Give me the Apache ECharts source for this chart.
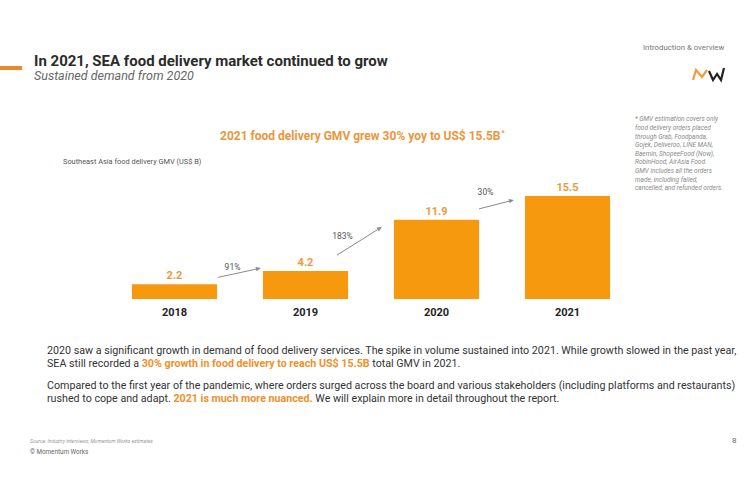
<!DOCTYPE html>
<html>
<head>
<meta charset="utf-8">
<script src="https://cdn.jsdelivr.net/npm/echarts@6/dist/echarts.min.js"></script>
<style>
html,body{margin:0;padding:0;background:#fff;}
#chart{width:750px;height:500px;}
</style>
</head>
<body>
<div id="chart"></div>
<script>
// ---- data ----
var years = ['2018', '2019', '2020', '2021'];
var gmv = [2.2, 4.2, 11.9, 15.5];
var growthLabels = ['91%', '183%', '30%'];

var ORANGE = '#F7990F';
var LABEL_ORANGE = '#EE9A3C';
var FONT = 'Roboto, "Noto Sans", sans-serif';

var chart = echarts.init(document.getElementById('chart'), null, {renderer: 'svg'});

var baseGraphics = [
  {type: 'rect', shape: {x: 0, y: 66, width: 22, height: 4}, style: {fill: '#E8892A'}},
  {type: 'text', left: 34, top: 53, style: {text: 'In 2021, SEA food delivery market continued to grow', font: 'bold 15px ' + FONT, fill: '#2b2b2b'}},
  {type: 'text', left: 34, top: 69, style: {text: 'Sustained demand from 2020', font: 'italic 12.5px ' + FONT, fill: '#666'}},
  {type: 'text', left: 643, top: 43, style: {text: 'Introduction & overview', font: '7.8px ' + FONT, fill: '#777'}},
  // MW logo
  {type: 'polyline', shape: {points: [[693, 80], [696, 70], [702, 77], [707, 70]]}, style: {stroke: '#F29A3A', lineWidth: 2.2, fill: null}},
  {type: 'polyline', shape: {points: [[709, 71], [713, 80], [717, 74], [721, 80], [724, 68]]}, style: {stroke: '#222', lineWidth: 2.2, fill: null}},
  {type: 'text', left: 635, top: 115, style: {
    text: '* GMV estimation covers only\nfood delivery orders placed\nthrough Grab, Foodpanda,\nGojek, Deliveroo, LINE MAN,\nBaemin, ShopeeFood (Now),\nRobinHood, AirAsia Food.\nGMV includes all the orders\nmade, including failed,\ncancelled, and refunded orders.',
    font: 'italic 6.5px ' + FONT, fill: '#8a8a8a', lineHeight: 8.6}},
  {type: 'text', left: 63, top: 158, style: {text: 'Southeast Asia food delivery GMV (US$ B)', font: '7.4px ' + FONT, fill: '#555'}},
  {type: 'text', left: 47, top: 344, style: {
    text: '{n|2020 saw a significant growth in demand of food delivery services. The spike in volume sustained into 2021. While growth slowed in the past year,}\n{n|SEA still recorded a }{h|30% growth in food delivery to reach US$ 15.5B}{n| total GMV in 2021.}',
    lineHeight: 13,
    rich: {
      n: {font: '10.7px ' + FONT, fill: '#333', lineHeight: 13},
      h: {font: 'bold 10.7px ' + FONT, fill: '#F0902A', lineHeight: 13}
    }}},
  {type: 'text', left: 47, top: 379, style: {
    text: '{n|Compared to the first year of the pandemic, where orders surged across the board and various stakeholders (including platforms and restaurants)}\n{n|rushed to cope and adapt. }{h|2021 is much more nuanced.}{n| We will explain more in detail throughout the report.}',
    lineHeight: 13,
    rich: {
      n: {font: '10.7px ' + FONT, fill: '#333', lineHeight: 13},
      h: {font: 'bold 10.7px ' + FONT, fill: '#F0902A', lineHeight: 13}
    }}},
  {type: 'text', left: 30, top: 438, style: {text: 'Source: Industry interviews; Momentum Works estimates', font: 'italic 5px ' + FONT, fill: '#999'}},
  {type: 'text', left: 30, top: 449, style: {text: '\u00A9 Momentum Works', font: '6.3px ' + FONT, fill: '#666'}},
  {type: 'text', left: 732, top: 436, style: {text: '8', font: '8px ' + FONT, fill: '#666'}}
];

var option = {
  backgroundColor: '#ffffff',
  animation: false,
  title: {
    text: '2021 food delivery GMV grew 30% yoy to US$ 15.5B{s|*}',
    left: 215, top: 124,
    textStyle: {
      fontFamily: FONT, fontSize: 12, fontWeight: 'bold', color: '#EB963A',
      rich: {s: {fontSize: 7, verticalAlign: 'top', color: '#EB963A', padding: [0, 0, 6, 1]}}
    }
  },
  grid: {left: 109, right: 117, top: 166, bottom: 201},
  xAxis: {
    type: 'category',
    data: years,
    axisLine: {show: false},
    axisTick: {show: false},
    axisLabel: {fontFamily: FONT, fontWeight: 'bold', fontSize: 11, color: '#1e1e1e', margin: 8}
  },
  yAxis: {
    type: 'value', min: 0, max: 20, show: false, splitLine: {show: false}
  },
  series: [{
    type: 'bar',
    data: gmv,
    barWidth: '65%',
    itemStyle: {color: ORANGE},
    label: {
      show: true, position: 'top', distance: 3,
      fontFamily: FONT, fontWeight: 'bold', fontSize: 11, color: LABEL_ORANGE
    }
  }],
  graphic: baseGraphics
};
chart.setOption(option);

// growth arrows between bars, positioned from the library's own scales
function drawArrows() {
  var pts = gmv.map(function (v, i) { return chart.convertToPixel({seriesIndex: 0}, [i, v]); });
  var band = pts[1][0] - pts[0][0];
  var hw = band * 0.325;
  // per-arrow tweaks relative to bar edges and tops
  var tweaks = [
    {s: [1, -7], e: [-2, -3], l: [-7, -6]},
    {s: [-11, -16], e: [-12, 7], l: [-17, -5]},
    {s: [0, -11], e: [-11, 4], l: [-11, -12]}
  ];
  var g = [];
  for (var i = 0; i < growthLabels.length; i++) {
    var t = tweaks[i];
    var x1 = pts[i][0] + hw + t.s[0], y1 = pts[i][1] + t.s[1];
    var x2 = pts[i + 1][0] - hw + t.e[0], y2 = pts[i + 1][1] + t.e[1];
    var ang = Math.atan2(y2 - y1, x2 - x1);
    var ah = 5, aw = 2.2;
    var bx = x2 - ah * Math.cos(ang), by = y2 - ah * Math.sin(ang);
    g.push({type: 'line', shape: {x1: x1, y1: y1, x2: bx, y2: by}, style: {stroke: '#8a8a8a', lineWidth: 1}});
    g.push({type: 'polygon', shape: {points: [[x2, y2],
      [bx + aw * Math.sin(ang), by - aw * Math.cos(ang)],
      [bx - aw * Math.sin(ang), by + aw * Math.cos(ang)]]}, style: {fill: '#8a8a8a'}});
    var mx = (x1 + x2) / 2 + t.l[0], my = (y1 + y2) / 2 + t.l[1];
    g.push({type: 'text', x: mx, y: my, style: {text: growthLabels[i], font: '8.5px ' + FONT, fill: '#555', align: 'center', verticalAlign: 'middle'}});
  }
  chart.setOption({graphic: baseGraphics.concat(g)});
}
drawArrows();
</script>
</body>
</html>
